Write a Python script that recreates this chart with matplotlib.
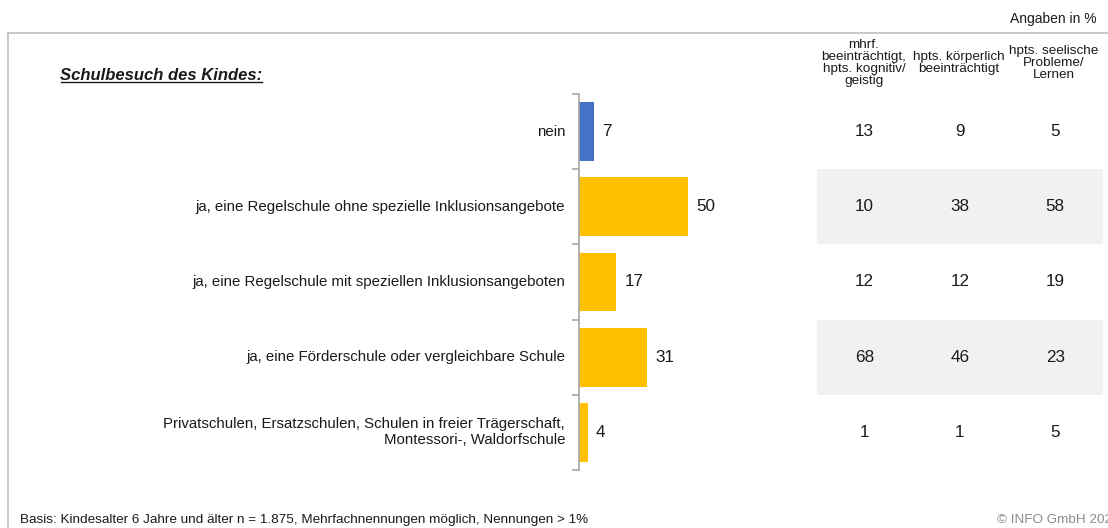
import matplotlib
matplotlib.use("Agg")
import matplotlib.pyplot as plt
from matplotlib.lines import Line2D

plt.rcParams['font.family'] = ['Liberation Sans', 'DejaVu Sans']

categories = [
    "nein",
    "ja, eine Regelschule ohne spezielle Inklusionsangebote",
    "ja, eine Regelschule mit speziellen Inklusionsangeboten",
    "ja, eine Förderschule oder vergleichbare Schule",
    "Privatschulen, Ersatzschulen, Schulen in freier Trägerschaft,\nMontessori-, Waldorfschule",
]
values = [7, 50, 17, 31, 4]
bar_colors = ["#4472C4", "#FFC000", "#FFC000", "#FFC000", "#FFC000"]

col_headers = [
    "mhrf.\nbeeinträchtigt,\nhpts. kognitiv/\ngeistig",
    "hpts. körperlich\nbeeinträchtigt",
    "hpts. seelische\nProbleme/\nLernen",
]
col_kognitiv = [13, 10, 12, 68, 1]
col_koerper = [9, 38, 12, 46, 1]
col_seelisch = [5, 58, 19, 23, 5]

W, H = 1108, 528
fig = plt.figure(figsize=(W / 100, H / 100), dpi=100)
TXT = "#1a1a1a"
GRID = "#bfbfbf"

def fx(px):
    return px / W

def fy(py):
    return 1 - py / H

# frame lines
fig.add_artist(Line2D([fx(8), 1.0], [fy(33), fy(33)], color=GRID, lw=1.2))
fig.add_artist(Line2D([fx(8), fx(8)], [fy(33), 0], color=GRID, lw=1.2))

# bar axes
top_px, bot_px = 94, 470
ax = fig.add_axes([fx(579), fy(bot_px), fx(797) - fx(579), (bot_px - top_px) / H])
n = len(categories)
ypos = list(range(n))
ax.barh(ypos, values, height=0.78, color=bar_colors, zorder=2)
ax.set_xlim(0, 100)
ax.set_ylim(n - 0.5, -0.5)
for s in ["top", "right", "bottom"]:
    ax.spines[s].set_visible(False)
ax.spines["left"].set_color("#a6a6a6")
ax.spines["left"].set_linewidth(1.2)
ax.set_xticks([])
ax.set_yticks([i - 0.5 for i in range(n + 1)])
ax.set_yticklabels([])
ax.tick_params(axis="y", length=5, width=1.2, color="#a6a6a6", direction="out")
ax.patch.set_alpha(0)

for i, (cat, v) in enumerate(zip(categories, values)):
    ax.annotate(cat, xy=(0, i), xytext=(-10, 0), textcoords="offset points",
                ha="right", va="center", fontsize=10.8, color=TXT, linespacing=1.2,
                annotation_clip=False)
    ax.annotate(str(v), xy=(v, i), xytext=(6, 0), textcoords="offset points",
                ha="left", va="center", fontsize=12.3, color=TXT)

# table axes
tax = fig.add_axes([fx(817), fy(bot_px), fx(1103) - fx(817), (bot_px - top_px) / H], sharey=ax)
tax.set_xlim(0, 3)
tax.axis("off")
for i in range(n):
    if i % 2 == 1:
        tax.axhspan(i - 0.5, i + 0.5, xmin=0, xmax=1, color="#f1f1f1", lw=0, zorder=0)
for j, col in enumerate([col_kognitiv, col_koerper, col_seelisch]):
    for i, v in enumerate(col):
        tax.text(j + 0.5, i, str(v), ha="center", va="center", fontsize=12.3, color=TXT, zorder=3)

header_x = [864, 959, 1054]
for hx, htxt in zip(header_x, col_headers):
    fig.text(fx(hx), fy(63), htxt, ha="center", va="center", fontsize=9.7,
             color=TXT, linespacing=0.98)

fig.text(fx(1097), fy(19), "Angaben in %", ha="right", va="center", fontsize=10, color=TXT)

title = fig.text(fx(60), fy(75), "Schulbesuch des Kindes:", ha="left", va="center",
                 fontsize=12, fontweight="bold", fontstyle="italic", color=TXT)
fig.canvas.draw()
bb = title.get_window_extent()
uy = bb.y0 + 0.5
fig.add_artist(Line2D([bb.x0 / W + 0.001, bb.x1 / W], [uy / H, uy / H], color=TXT, lw=1.0))

fig.text(fx(20), fy(520), "Basis: Kindesalter 6 Jahre und älter n = 1.875, Mehrfachnennungen möglich, Nennungen > 1%",
         ha="left", va="center", fontsize=9.7, color=TXT)
fig.text(fx(997), fy(520), "© INFO GmbH 2022", ha="left", va="center", fontsize=9.7, color="#8c8c8c")

fig.savefig("out.png", dpi=100)
